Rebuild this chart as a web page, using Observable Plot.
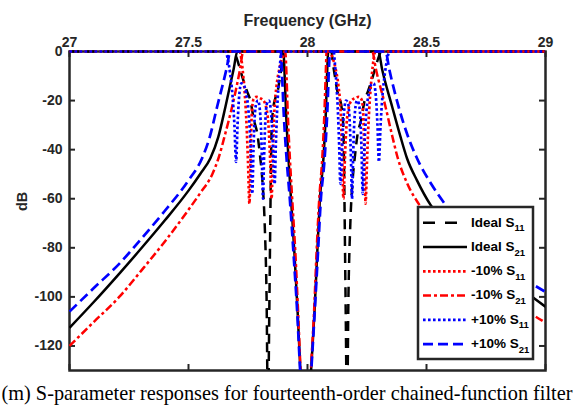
<!DOCTYPE html>
<html>
<head>
<meta charset="utf-8">
<script src="https://cdn.jsdelivr.net/npm/d3@7"></script>
<script src="https://cdn.jsdelivr.net/npm/@observablehq/plot@0.6"></script>
<style>
  html, body { margin: 0; padding: 0; background: #fff; }
  #wrap { position: relative; width: 577px; height: 406px; overflow: hidden; background: #fff; }
  #caption { position: absolute; left: 1.5px; top: 383px; font-family: "Liberation Serif", "Times New Roman", serif; font-size: 20.3px; line-height: 20px; white-space: nowrap; color: #000; }
</style>
</head>
<body>
<div id="wrap"><div id="chart"></div><div id="caption"></div></div>
<script>
// ---------- data ----------
const xTicks = [27, 27.5, 28, 28.5, 29];
const yTicks = [0, -20, -40, -60, -80, -100, -120];
const xLabel = "Frequency (GHz)";
const yLabel = "dB";
const captionText = "(m) S-parameter responses for fourteenth-order chained-function filter";

const seriesNames  = ["Ideal", "Ideal", "-10%", "-10%", "+10%", "+10%"];
const seriesParams = ["11", "21", "11", "21", "11", "21"];

// Ideal S11
const idealS11F  = [27.0, 27.69, 27.70, 27.71, 27.725, 27.745, 27.76, 27.775, 27.79, 27.80, 27.81, 27.82, 27.828, 27.834, 27.839, 27.843, 27.846, 27.849, 27.855, 27.865, 27.875, 27.885, 27.893, 27.90,
                    28.10, 28.107, 28.115, 28.125, 28.135, 28.145, 28.151, 28.154, 28.157, 28.161, 28.166, 28.172, 28.18, 28.19, 28.20, 28.21, 28.225, 28.24, 28.255, 28.275, 28.29, 28.30, 28.31, 29.0];
const idealS11DB = [0, 0, -2, -5, -10, -16, -20, -28, -34, -42, -52, -70, -100, -150, -110, -75, -50, -32, -24, -19, -16, -10, -5, 0,
                    0, -5, -10, -16, -19, -24, -32, -50, -75, -110, -150, -100, -70, -52, -42, -34, -28, -20, -16, -10, -5, -2, 0, 0];

// Ideal S21
const idealS21F  = [27.0, 27.1, 27.214, 27.3, 27.4, 27.5, 27.55, 27.592, 27.625, 27.655, 27.69, 27.705,
                    27.899, 27.902, 27.91, 27.92, 27.931, 27.945, 27.958, 27.97, 27.9925,
                    28.015, 28.03, 28.041, 28.052, 28.067, 28.077, 28.084, 28.087,
                    28.298, 28.313, 28.356, 28.39, 28.418, 28.46, 28.517, 28.6, 28.7, 28.8, 28.9, 29.0];
const idealS21DB = [-112.6, -102.3, -90, -80.4, -68.9, -56.7, -49.8, -43.5, -34.9, -22.6, -7, 0,
                    0, -5, -25, -43.5, -60.5, -82, -105, -130, -170,
                    -130, -105, -82, -60.5, -43.5, -25, -5, 0,
                    0, -7, -22.6, -34.5, -43.5, -52.5, -62.5, -71.5, -80.5, -89, -96.8, -104];

// -10% S11
const minusS11F  = [27.0, 27.715, 27.722, 27.73, 27.737, 27.744, 27.75, 27.756, 27.761, 27.766, 27.773, 27.785, 27.80, 27.815, 27.827, 27.836, 27.843, 27.849, 27.855, 27.861, 27.87, 27.882, 27.895, 27.908,
                    28.092, 28.105, 28.118, 28.13, 28.139, 28.145, 28.151, 28.157, 28.164, 28.173, 28.185, 28.20, 28.215, 28.227, 28.234, 28.239, 28.244, 28.25, 28.256, 28.263, 28.27, 28.278, 28.285, 29.0];
const minusS11DB = [0, 0, -3, -10, -18, -30, -45, -62, -42, -25, -19.5, -18.5, -19, -20, -23, -30, -44, -60, -40, -24, -14, -7, -2.5, 0,
                    0, -2.5, -7, -14, -24, -40, -60, -44, -30, -23, -20, -19, -18.5, -19.5, -25, -42, -62, -45, -30, -18, -10, -3, 0, 0];

// -10% S21
const minusS21F  = [27.0, 27.1, 27.214, 27.3, 27.4, 27.5, 27.55, 27.6, 27.626, 27.655, 27.683, 27.717, 27.73,
                    27.907, 27.91, 27.917, 27.926, 27.936, 27.949, 27.96, 27.971, 27.993,
                    28.014, 28.028, 28.038, 28.049, 28.062, 28.071, 28.078, 28.08,
                    28.272, 28.287, 28.328, 28.355, 28.378, 28.42, 28.47, 28.55, 28.65, 28.75, 28.85, 28.95, 29.0];
const minusS21DB = [-120, -110.4, -99.5, -89.5, -77.5, -64.5, -57.6, -50, -43.5, -33.3, -22.6, -7, 0,
                    0, -5, -25, -43.5, -60.5, -82, -105, -130, -170,
                    -130, -105, -82, -60.5, -43.5, -25, -5, 0,
                    0, -7, -22.6, -34, -43, -54, -62.5, -72.5, -83, -92.5, -100.5, -107.5, -110.5];

// +10% S11
const plusS11F  = [27.0, 27.655, 27.665, 27.675, 27.685, 27.693, 27.70, 27.706, 27.713, 27.722, 27.732, 27.742, 27.752, 27.759, 27.764, 27.768, 27.773, 27.778, 27.785, 27.792, 27.80, 27.806, 27.81, 27.813, 27.817, 27.822, 27.83, 27.838, 27.846, 27.853, 27.858, 27.862, 27.867, 27.872, 27.878, 27.884, 27.89,
                   28.11, 28.116, 28.122, 28.128, 28.133, 28.138, 28.142, 28.147, 28.154, 28.162, 28.17, 28.178, 28.183, 28.187, 28.19, 28.194, 28.20, 28.208, 28.215, 28.222, 28.227, 28.232, 28.236, 28.241, 28.248, 28.258, 28.268, 28.278, 28.287, 28.294, 28.30, 28.307, 28.315, 28.325, 28.335, 28.345, 29.0];
const plusS11DB = [0, 0, -3, -9, -18, -30, -45, -30, -18, -13, -13.5, -17, -24, -35, -48, -58, -40, -27, -21, -20, -24, -35, -50, -60, -45, -30, -21, -20, -24, -35, -48, -54, -38, -25, -14, -6, 0,
                   0, -6, -14, -25, -38, -54, -48, -35, -24, -20, -21, -30, -45, -60, -50, -35, -24, -20, -21, -27, -40, -58, -48, -35, -24, -17, -13.5, -13, -18, -30, -45, -30, -18, -9, -3, 0, 0];

// +10% S21
const plusS21F  = [27.0, 27.1, 27.214, 27.3, 27.4, 27.5, 27.557, 27.59, 27.62, 27.66, 27.676,
                   27.888, 27.891, 27.9, 27.912, 27.926, 27.941, 27.956, 27.969, 27.993,
                   28.016, 28.031, 28.044, 28.056, 28.072, 28.083, 28.091, 28.094,
                   28.328, 28.343, 28.383, 28.42, 28.46, 28.52, 28.58, 28.7, 28.8, 28.9, 29.0];
const plusS21DB = [-106, -96.6, -86, -76.5, -65, -52.5, -43.5, -34.6, -22.6, -7, 0,
                   0, -5, -25, -43.5, -60.5, -82, -105, -130, -170,
                   -130, -105, -82, -60.5, -43.5, -25, -5, 0,
                   0, -7, -22.6, -34, -43.5, -54, -62.5, -76, -85, -92, -98];

// ---------- styles ----------
const seriesData = [
  [idealS11F, idealS11DB], [idealS21F, idealS21DB],
  [minusS11F, minusS11DB], [minusS21F, minusS21DB],
  [plusS11F, plusS11DB], [plusS21F, plusS21DB]
];
const styles = [
  {stroke: "#000000", dash: "10,7",    legendDash: "12,10",  width: 2.5},
  {stroke: "#000000", dash: null,      legendDash: null,     width: 2.5},
  {stroke: "#ff0000", dash: "2.6,2.4", legendDash: "2.6,2.4", width: 2.7},
  {stroke: "#ff0000", dash: "8,3,3,3", legendDash: "8,3,3,3", width: 2.5},
  {stroke: "#0000ff", dash: "2.6,2.4", legendDash: "2.6,2.4", width: 2.7},
  {stroke: "#0000ff", dash: "10,5",    legendDash: "10,5",   width: 2.7}
];

const W = 577, H = 374;
const FL = 69, FR = 545, FT = 51, FB = 370;
const axisColor = "#262626";
const fontStack = "'Liberation Sans', Arial, sans-serif";

const lineMarks = seriesData.map(([F, D], i) => {
  const rows = F.map((f, j) => ({f, dB: D[j]}));
  const s = styles[i];
  return Plot.line(rows, {
    x: "f", y: "dB", stroke: s.stroke, strokeWidth: s.width,
    strokeDasharray: s.dash || undefined, curve: "monotone-x", clip: true,
    strokeLinecap: "butt", strokeLinejoin: "round"
  });
});

const tickLen = 6;
const chart = Plot.plot({
  width: W, height: H,
  marginLeft: FL, marginRight: W - FR, marginTop: FT, marginBottom: H - FB,
  x: {domain: [27, 29]},
  y: {domain: [-130, 0]},
  style: {fontFamily: fontStack, fontSize: "14px", background: "white", color: axisColor, overflow: "visible"},
  marks: [
    Plot.frame({stroke: axisColor, strokeWidth: 2.5}),
    Plot.ruleX(xTicks, {x: d => d, insetBottom: (FB - FT) - tickLen, stroke: axisColor, strokeWidth: 2}),
    Plot.ruleX(xTicks, {x: d => d, insetTop: (FB - FT) - tickLen, stroke: axisColor, strokeWidth: 2}),
    Plot.ruleY(yTicks, {y: d => d, insetRight: (FR - FL) - tickLen, stroke: axisColor, strokeWidth: 2}),
    Plot.ruleY(yTicks, {y: d => d, insetLeft: (FR - FL) - tickLen, stroke: axisColor, strokeWidth: 2}),
    ...lineMarks,
    Plot.axisX({anchor: "top", ticks: xTicks, tickSize: 0, tickPadding: 4.5, tickFormat: d => String(d), label: null, fontSize: 14, fontWeight: "bold"}),
    Plot.axisY({anchor: "left", ticks: yTicks, tickSize: 0, tickPadding: 7, tickFormat: d => String(d), label: null, fontSize: 14, fontWeight: "bold"}),
    Plot.text([xLabel], {text: d => d, frameAnchor: "top", dy: -26, lineAnchor: "bottom", fontSize: 16, fontWeight: "bold"}),
    Plot.text([yLabel], {text: d => d, frameAnchor: "left", dx: -47, rotate: -90, fontSize: 14.5, fontWeight: "bold"})
  ]
});

// let the 0 dB lines show their full width along the top edge
chart.querySelectorAll("clipPath rect").forEach(r => {
  const y = +r.getAttribute("y"), h = +r.getAttribute("height");
  r.setAttribute("y", y - 3);
  r.setAttribute("height", h + 3);
});

// ---------- legend ----------
const svg = d3.select(chart);
const lg = svg.append("g").attr("font-family", fontStack).attr("font-weight", "bold").attr("text-anchor", "start");
lg.append("rect").attr("x", 418).attr("y", 207).attr("width", 115).attr("height", 152)
  .attr("fill", "white").attr("stroke", axisColor).attr("stroke-width", 2.5);
seriesNames.forEach((name, i) => {
  const cy = 222.7 + i * 24.3;
  const s = styles[i];
  const ln = lg.append("line").attr("x1", 423).attr("x2", 467).attr("y1", cy).attr("y2", cy)
    .attr("stroke", s.stroke).attr("stroke-width", s.width);
  if (s.legendDash) ln.attr("stroke-dasharray", s.legendDash);
  const t = lg.append("text").attr("x", 471).attr("y", cy + 3.8).attr("font-size", 13.5)
    .attr("fill", "#000").attr("text-anchor", "start");
  t.append("tspan").text(name + " S");
  t.append("tspan").attr("font-size", 9.5).attr("dy", 4.7).text(seriesParams[i]);
});

document.getElementById("chart").appendChild(chart);
document.getElementById("caption").textContent = captionText;
</script>
</body>
</html>
